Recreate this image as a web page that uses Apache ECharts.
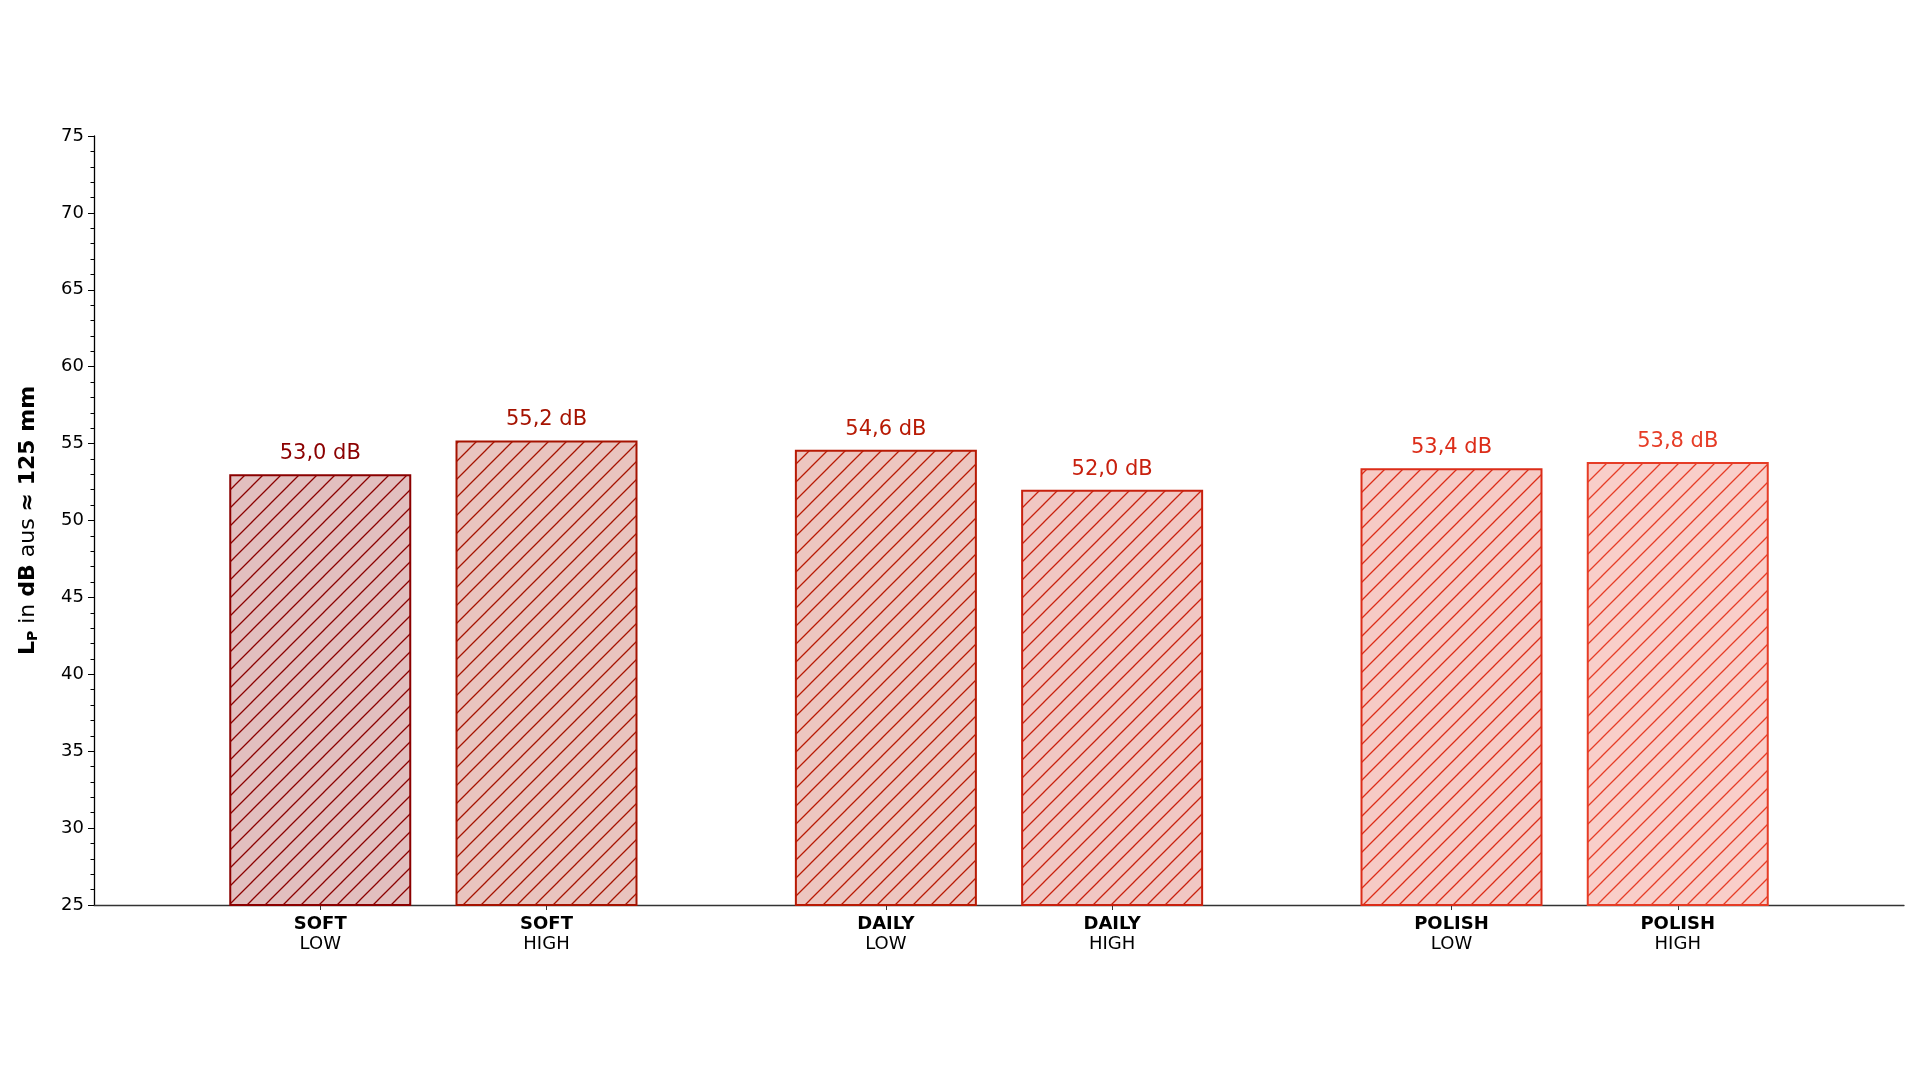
<!DOCTYPE html>
<html>
<head>
<meta charset="utf-8">
<script src="https://cdn.jsdelivr.net/npm/echarts@6/dist/echarts.min.js"></script>
<style>html,body{margin:0;padding:0;background:#fff}#c{width:1920px;height:1080px}</style>
</head>
<body>
<div id="c"></div>
<script>
const groups = ['SOFT','SOFT','DAILY','DAILY','POLISH','POLISH'];
const levels = ['LOW','HIGH','LOW','HIGH','LOW','HIGH'];
const values = [53.0, 55.2, 54.6, 52.0, 53.4, 53.8];
const positions = [0, 1, 2.5, 3.5, 5, 6];
const colors = ['#8b0000', '#a51200', '#b81a04', '#c8200e', '#dc2c18', '#e63c26'];

function hexToRgb(h){const n=parseInt(h.slice(1),16);return [(n>>16)&255,(n>>8)&255,n&255];}
function makePattern(col){
  const s = 18;
  const cv = document.createElement('canvas');
  cv.width = s; cv.height = s;
  const ctx = cv.getContext('2d');
  const [r,g,b] = hexToRgb(col);
  ctx.fillStyle = 'rgb(' + Math.round(255-(255-r)*0.25) + ',' + Math.round(255-(255-g)*0.25) + ',' + Math.round(255-(255-b)*0.25) + ')';
  ctx.fillRect(0,0,s,s);
  ctx.strokeStyle = col;
  ctx.lineWidth = 1.3;
  ctx.beginPath();
  ctx.moveTo(-2, s+2); ctx.lineTo(s+2, -2);
  ctx.moveTo(-2, 2); ctx.lineTo(2, -2);
  ctx.moveTo(s-2, s+2); ctx.lineTo(s+2, s-2);
  ctx.stroke();
  return cv;
}

const font = 'DejaVu Sans';
const chart = echarts.init(document.getElementById('c'));
chart.setOption({
  animation: false,
  backgroundColor: '#fff',
  grid: {left: 94, right: 16, top: 136, bottom: 175},
  xAxis: {
    type: 'value', min: -1, max: 7,
    splitLine: {show: false},
    axisLine: {show: true, onZero: false, lineStyle: {color: '#333', width: 1.3}},
    axisTick: {show: true, customValues: positions, length: 5, lineStyle: {color: '#333'}},
    axisLabel: {
      customValues: positions, margin: 9, fontFamily: font, color: '#000',
      formatter: function(v){ const i = positions.indexOf(v); return i<0 ? '' : '{b|' + groups[i] + '}\n{n|' + levels[i] + '}'; },
      rich: {
        b: {fontFamily: font, fontWeight: 'bold', fontSize: 18, color: '#000', lineHeight: 20},
        n: {fontFamily: font, fontSize: 18, color: '#000', lineHeight: 20}
      }
    }
  },
  yAxis: {
    type: 'value', min: 25, max: 75, interval: 5,
    splitLine: {show: false},
    axisLine: {show: true, onZero: false, lineStyle: {color: '#000', width: 1.3}},
    axisTick: {show: true, length: 6, lineStyle: {color: '#000'}},
    minorTick: {show: true, splitNumber: 5, length: 3.5, lineStyle: {color: '#000'}},
    minorSplitLine: {show: false},
    axisLabel: {fontFamily: font, fontSize: 18, color: '#000', margin: 10},
    name: '{bb|L}{sub|P}{nn| in }{bb|dB}{nn| aus }{bb|≈ 125 mm}',
    nameLocation: 'middle', nameRotate: 90, nameGap: 54,
    nameTextStyle: {
      rich: {
        bb: {fontFamily: font, fontWeight: 'bold', fontSize: 22, color: '#000'},
        nn: {fontFamily: font, fontSize: 22, color: '#000'},
        sub: {fontFamily: font, fontWeight: 'bold', fontSize: 14, color: '#000', verticalAlign: 'bottom', padding: [9,0,0,0]}
      }
    }
  },
  series: [{
    type: 'bar',
    barWidth: 182,
    data: values.map(function(v,i){
      return {
        value: [positions[i], v],
        itemStyle: {color: {image: makePattern(colors[i]), repeat: 'repeat'}, borderColor: colors[i], borderWidth: 2},
        label: {color: colors[i]}
      };
    }),
    label: {
      show: true, position: 'top', distance: 10, fontFamily: font, fontSize: 21,
      formatter: function(p){ return p.value[1].toFixed(1).replace('.', ',') + ' dB'; }
    }
  }]
});
</script>
</body>
</html>
